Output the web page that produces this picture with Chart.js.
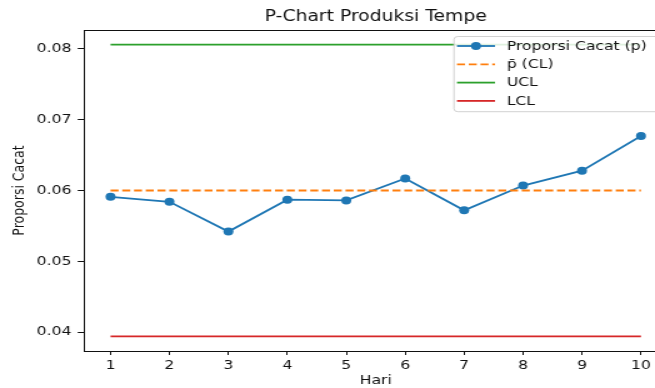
<!DOCTYPE html>
<html><head><meta charset="utf-8">
<script src="https://cdn.jsdelivr.net/npm/chart.js@4.4.1/dist/chart.umd.min.js"></script>
<style>
html,body{margin:0;padding:0;background:#fff;overflow:hidden;width:655px;height:388px;}
#wrap{position:absolute;left:0;top:0;width:538px;height:388px;transform:scaleX(1.25);transform-origin:0 0;}
canvas{display:block;}
</style></head><body>
<div id="wrap"><canvas id="c" width="538" height="388"></canvas></div>
<script>
// ---- data ----
const days = [1, 2, 3, 4, 5, 6, 7, 8, 9, 10];
const proporsiCacat = [0.0591, 0.0584, 0.0542, 0.0587, 0.0586, 0.0617, 0.0572, 0.0607, 0.0628, 0.0677];
const centerLine = 0.0600;
const upperLimit = 0.0806;
const lowerLimit = 0.0394;
const yTicks = [0.04, 0.05, 0.06, 0.07, 0.08];
const yRange = [0.03734, 0.08266];
const xRange = [0.55, 10.45];
const texts = {
  title: 'P-Chart Produksi Tempe', x: 'Hari', y: 'Proporsi Cacat',
  p: 'Proporsi Cacat (p)', cl: 'p\u0304 (CL)', ucl: 'UCL', lcl: 'LCL'
};

// ---- styling ----
const FONT = 'DejaVu Sans';
const INK = '#111111';
const BLUE = '#1f77b4', ORANGE = '#ff7f0e', GREEN = '#2ca02c', RED = '#d62728';
const DASH = [6.4, 3];

const pts = vals => days.map((d, i) => ({x: d, y: vals[i]}));
const flat = v => days.map(d => ({x: d, y: v}));

const framePlugin = {
  id: 'frame',
  afterDatasetsDraw(chart) {
    const {ctx, chartArea: a} = chart;
    ctx.save();
    ctx.strokeStyle = INK; ctx.lineWidth = 1;
    ctx.beginPath();
    ctx.moveTo(a.left, a.top + 0.5); ctx.lineTo(a.right, a.top + 0.5);
    ctx.moveTo(a.right - 0.5, a.top); ctx.lineTo(a.right - 0.5, a.bottom);
    ctx.stroke();
    ctx.restore();
  }
};

const legendPlugin = {
  id: 'mplLegend',
  afterDraw(chart) {
    const {ctx, chartArea: a} = chart;
    const right = a.right - 6, top = a.top + 6.5;
    const left = right - 164.8, bottom = top + 75.2;
    ctx.save();
    ctx.beginPath();
    if (ctx.roundRect) ctx.roundRect(left, top, right - left, bottom - top, 3);
    else ctx.rect(left, top, right - left, bottom - top);
    ctx.fillStyle = 'rgba(255,255,255,0.85)';
    ctx.fill();
    ctx.strokeStyle = 'rgba(204,204,204,0.9)';
    ctx.lineWidth = 1;
    ctx.stroke();
    const entries = [
      {label: texts.p, color: BLUE, dash: [], marker: true},
      {label: texts.cl, color: ORANGE, dash: DASH, marker: false},
      {label: texts.ucl, color: GREEN, dash: [], marker: false},
      {label: texts.lcl, color: RED, dash: [], marker: false}
    ];
    const hx0 = left + 2.4, hx1 = left + 32.8, tx = left + 42.2;
    entries.forEach((e, i) => {
      const y = top + 9.5 + i * 18.3;
      ctx.setLineDash(e.dash);
      ctx.strokeStyle = e.color; ctx.lineWidth = 1.8;
      ctx.beginPath(); ctx.moveTo(hx0, y); ctx.lineTo(hx1, y); ctx.stroke();
      ctx.setLineDash([]);
      if (e.marker) {
        ctx.fillStyle = e.color;
        ctx.beginPath(); ctx.arc((hx0 + hx1) / 2, y, 4, 0, Math.PI * 2); ctx.fill();
      }
      ctx.fillStyle = INK;
      ctx.font = '12.5px "' + FONT + '"';
      ctx.textBaseline = 'middle';
      ctx.textAlign = 'left';
      ctx.fillText(e.label, tx, y + 0.5);
    });
    ctx.restore();
  }
};

new Chart(document.getElementById('c'), {
  type: 'line',
  data: {
    datasets: [
      {label: texts.p, data: pts(proporsiCacat), borderColor: BLUE, backgroundColor: BLUE,
       borderWidth: 1.8, pointRadius: 4, pointHoverRadius: 4, pointBorderWidth: 0, tension: 0, order: 4},
      {label: texts.cl, data: flat(centerLine), borderColor: ORANGE, borderWidth: 1.8,
       borderDash: DASH, pointRadius: 0, order: 3},
      {label: texts.ucl, data: flat(upperLimit), borderColor: GREEN, borderWidth: 1.8, pointRadius: 0, order: 2},
      {label: texts.lcl, data: flat(lowerLimit), borderColor: RED, borderWidth: 1.8, pointRadius: 0, order: 1}
    ]
  },
  options: {
    responsive: false,
    animation: false,
    devicePixelRatio: 1,
    layout: {padding: {top: 0, right: 2, left: 0, bottom: 0}},
    plugins: {
      legend: {display: false},
      tooltip: {enabled: false},
      title: {display: true, text: texts.title, fullSize: false, color: INK,
              font: {family: FONT, size: 15, weight: 'normal'}, padding: {top: 8, bottom: 4}}
    },
    scales: {
      x: {
        type: 'linear', min: xRange[0], max: xRange[1],
        afterBuildTicks: s => { s.ticks = days.map(v => ({value: v})); },
        afterFit: s => { s.height = 37; },
        ticks: {color: INK, font: {family: FONT, size: 12.5}, padding: 3, maxRotation: 0, autoSkip: false,
                callback: v => String(v)},
        grid: {display: true, drawOnChartArea: false, drawTicks: true, tickLength: 4, color: INK, lineWidth: 1},
        border: {display: true, color: INK, width: 1},
        title: {display: true, text: texts.x, color: INK, font: {family: FONT, size: 12.5}, padding: {top: 0, bottom: 0}}
      },
      y: {
        type: 'linear', min: yRange[0], max: yRange[1],
        afterBuildTicks: s => { s.ticks = yTicks.map(v => ({value: v})); },
        afterFit: s => { s.width = 67.2; },
        ticks: {color: INK, font: {family: FONT, size: 12.5}, padding: 5, autoSkip: false,
                callback: v => Number(v).toFixed(2)},
        grid: {display: true, drawOnChartArea: false, drawTicks: true, tickLength: 5, color: INK, lineWidth: 1},
        border: {display: true, color: INK, width: 1},
        title: {display: true, text: texts.y, color: INK, font: {family: FONT, size: 12.5}, padding: {top: 8, bottom: 0}}
      }
    }
  },
  plugins: [framePlugin, legendPlugin]
});
</script>
</body></html>
